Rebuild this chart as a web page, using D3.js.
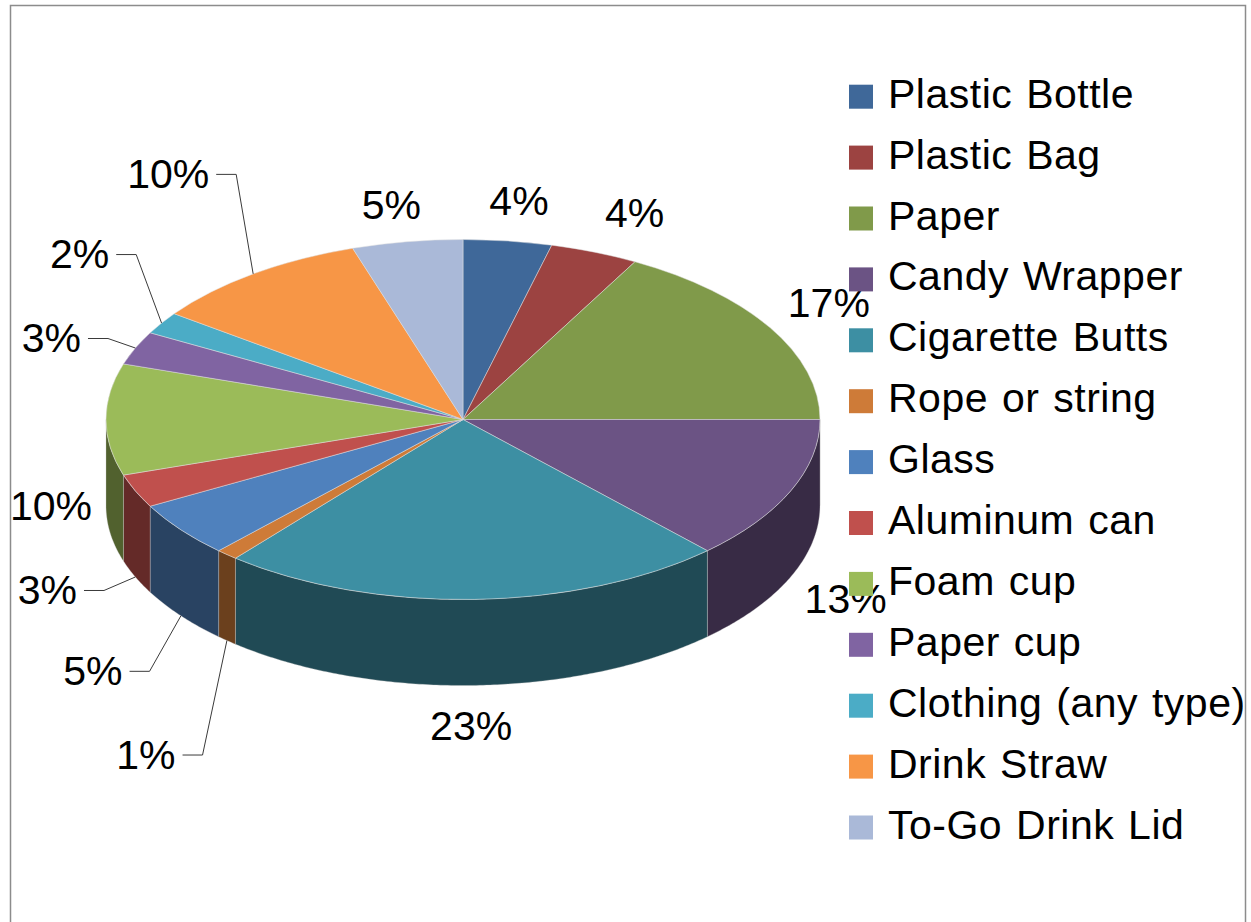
<!DOCTYPE html>
<html>
<head>
<meta charset="utf-8">
<script src="https://cdn.jsdelivr.net/npm/d3@7"></script>
<style>
  html, body { margin: 0; padding: 0; background: #fff; }
  svg { display: block; }
  text { font-family: "Liberation Sans", Arial, sans-serif; fill: #000; }
</style>
</head>
<body>
<svg id="chart" width="1251" height="922"></svg>
<script>
// Litter items collected (share of total, %)
const categories = [
  "Plastic Bottle", "Plastic Bag", "Paper", "Candy Wrapper", "Cigarette Butts",
  "Rope or string", "Glass", "Aluminum can", "Foam cup", "Paper cup",
  "Clothing (any type)", "Drink Straw", "To-Go Drink Lid"
];
const values = [4, 4, 17, 13, 23, 1, 5, 3, 10, 3, 2, 10, 5];
const palette = [
  "#3f6899", "#9c4341", "#809a4a", "#6b5384", "#3d8fa3", "#ce7b38",
  "#4f81bd", "#c0504d", "#9bbb59", "#8064a2", "#4bacc6", "#f79646", "#aab9d8"
];

// Labels that are pulled out with a leader line: offset of the label centre
// from the point on the pie edge it points at.
const calloutShift = {
  "Drink Straw": [-85, -101],
  "Clothing (any type)": [-82, -70],
  "Paper cup": [-84, -11],
  "Aluminum can": [-88, 12],
  "Glass": [-88, 54],
  "Rope or string": [-81, 113]
};
// Small hand adjustments of the remaining labels.
const labelNudge = {
  "Plastic Bottle": [5, -4],
  "Plastic Bag": [22, -6],
  "Paper": [6, -7],
  "Candy Wrapper": [-1, 6],
  "Cigarette Butts": [-5, 3],
  "Foam cup": [6, -1],
  "To-Go Drink Lid": [-8, -1]
};

const W = 1251, H = 922;
const svg = d3.select("#chart");

// chart-area frame
svg.append("rect")
  .attr("x", 10.5).attr("y", 5.5)
  .attr("width", 1235).attr("height", 940)
  .attr("fill", "none").attr("stroke", "#8c8c8c").attr("stroke-width", 1.5);

// pie geometry (tilted disc)
const cx = 463, cy = 419.5, rx = 357, ry = 180, depth = 86;
const FS = 41;

const pie = d3.pie().sort(null).value(d => d).startAngle(0).endAngle(2 * Math.PI);
const arcs = pie(values);
const color = d3.scaleOrdinal().domain(categories).range(palette);
const sideColor = c => {
  const r = d3.rgb(c);
  return d3.rgb(r.r * 0.52, r.g * 0.52, r.b * 0.52).formatHex();
};

const px = a => cx + rx * Math.sin(a);
const py = a => cy - ry * Math.cos(a);

// outer walls on the front half of the disc
const wall = d3.area()
  .x(a => px(a))
  .y0(a => py(a))
  .y1(a => py(a) + depth);

const gWalls = svg.append("g");
arcs.forEach((d, i) => {
  const a0 = Math.max(d.startAngle, Math.PI / 2);
  const a1 = Math.min(d.endAngle, 3 * Math.PI / 2);
  if (a0 >= a1) return;
  const n = Math.max(2, Math.ceil((a1 - a0) / 0.01));
  const angles = d3.range(n + 1).map(k => a0 + (a1 - a0) * k / n);
  gWalls.append("path")
    .attr("d", wall(angles))
    .attr("fill", sideColor(color(categories[i])))
    .attr("stroke", "rgba(200,200,200,0.55)")
    .attr("stroke-width", 0.6);
});

// top faces: circular arcs squashed into the ellipse
const gTop = svg.append("g")
  .attr("transform", `translate(${cx},${cy}) scale(1,${ry / rx})`);
const arcGen = d3.arc().innerRadius(0).outerRadius(rx);
gTop.selectAll("path")
  .data(arcs)
  .join("path")
  .attr("d", arcGen)
  .attr("fill", (d, i) => color(categories[i]))
  .attr("stroke", "rgba(225,225,225,0.7)")
  .attr("stroke-width", 0.7)
  .attr("vector-effect", "non-scaling-stroke");

// data labels
const gLab = svg.append("g");
arcs.forEach((d, i) => {
  const name = categories[i];
  const a = (d.startAngle + d.endAngle) / 2;
  const s = Math.sin(a), c = Math.cos(a);
  const front = c < 0.01;
  const ax = px(a), ay = py(a) + (front ? depth : 0);

  const t = gLab.append("text")
    .attr("font-size", FS)
    .attr("text-anchor", "middle")
    .text(values[i] + "%");
  const hw = t.node().getComputedTextLength() / 2;
  const hh = 17;

  let lx, ly;
  if (calloutShift[name]) {
    lx = ax + calloutShift[name][0];
    ly = ay + calloutShift[name][1];
    const x0 = lx + hw + 7, yl = ly + 1.5;
    gLab.append("polyline")
      .attr("points", [[x0, yl], [x0 + 20, yl], [ax, ay]].map(p => p.join(",")).join(" "))
      .attr("fill", "none")
      .attr("stroke", "#3a3a3a")
      .attr("stroke-width", 1);
  } else {
    const nd = labelNudge[name] || [0, 0];
    lx = ax + s * (hw + 20) + nd[0];
    ly = ay - c * (hh + 20) + nd[1];
  }
  t.attr("x", lx).attr("y", ly + 15);
});

// legend
const row = d3.scalePoint()
  .domain(categories)
  .range([107.7, 107.7 + 60.9 * (categories.length - 1)]);
const gLeg = svg.append("g");
const item = gLeg.selectAll("g")
  .data(categories)
  .join("g")
  .attr("transform", d => `translate(849,${row(d)})`);
item.append("rect")
  .attr("x", 0).attr("y", -23)
  .attr("width", 24).attr("height", 24)
  .attr("fill", d => color(d));
item.append("text")
  .attr("x", 39).attr("y", 0)
  .attr("font-size", FS)
  .attr("letter-spacing", "0.5px")
  .attr("word-spacing", "2px")
  .text(d => d);
</script>
</body>
</html>
